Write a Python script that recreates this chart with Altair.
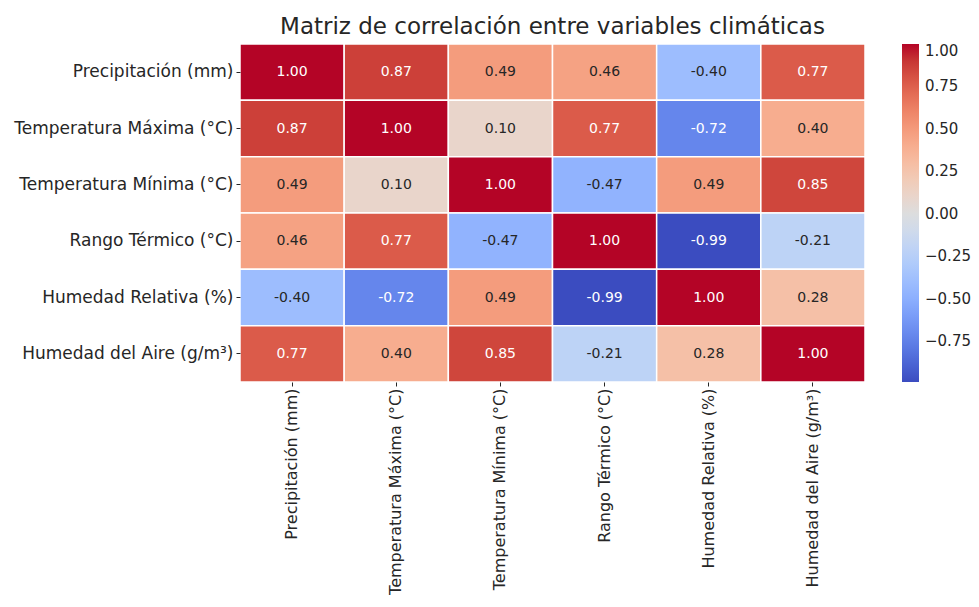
import altair as alt
import pandas as pd

variables = [
    "Precipitación (mm)",
    "Temperatura Máxima (°C)",
    "Temperatura Mínima (°C)",
    "Rango Térmico (°C)",
    "Humedad Relativa (%)",
    "Humedad del Aire (g/m³)",
]

row_prec = [1.00, 0.87, 0.49, 0.46, -0.40, 0.77]
row_tmax = [0.87, 1.00, 0.10, 0.77, -0.72, 0.40]
row_tmin = [0.49, 0.10, 1.00, -0.47, 0.49, 0.85]
row_rango = [0.46, 0.77, -0.47, 1.00, -0.99, -0.21]
row_hrel = [-0.40, -0.72, 0.49, -0.99, 1.00, 0.28]
row_haire = [0.77, 0.40, 0.85, -0.21, 0.28, 1.00]

legend_ticks = [1.00, 0.75, 0.50, 0.25, 0.00, -0.25, -0.50, -0.75]

rows = [row_prec, row_tmax, row_tmin, row_rango, row_hrel, row_haire]
records = []
for i, r in enumerate(rows):
    for j, v in enumerate(r):
        records.append({"row": variables[i], "col": variables[j], "value": v,
                        "label": f"{v:.2f}"})
df = pd.DataFrame(records)

# matplotlib "coolwarm" sampled at 17 stops
cw = ["#3b4cc0", "#4d68d7", "#6282ea", "#779af7", "#8db0fe", "#a3c2fe",
      "#b8d0f9", "#ccd9ed", "#dddddd", "#ecd3c5", "#f5c4ac", "#f7b194",
      "#f49a7b", "#ec7f63", "#de604d", "#cb3e38", "#b40426"]
vmin, vmax = -0.99, 1.00
stops = [vmin + (vmax - vmin) * k / (len(cw) - 1) for k in range(len(cw))]

FONT = "DejaVu Sans"
TXT = "#262626"

base = alt.Chart(df).encode(
    x=alt.X("col:N", sort=variables, title=None,
            scale=alt.Scale(paddingInner=0, paddingOuter=0),
            axis=alt.Axis(labelAngle=-90, labelFontSize=16, labelFont=FONT,
                          labelColor=TXT, tickColor=TXT, tickSize=4,
                          labelPadding=2, domain=False, labelLimit=400)),
    y=alt.Y("row:N", sort=variables, title=None,
            scale=alt.Scale(paddingInner=0, paddingOuter=0),
            axis=alt.Axis(labelFontSize=17, labelFont=FONT, labelColor=TXT,
                          tickColor=TXT, tickSize=4, labelPadding=3,
                          domain=False, labelLimit=400)),
)

rects = base.mark_rect(stroke="white", strokeWidth=1.5).encode(
    color=alt.Color("value:Q",
                    scale=alt.Scale(type="linear", domain=stops, range=cw),
                    legend=alt.Legend(title=None, orient="none", legendX=662,
                                      legendY=0, direction="vertical",
                                      gradientLength=338, gradientThickness=17,
                                      gradientStrokeWidth=0,
                                      values=legend_ticks, format=".2f",
                                      labelFontSize=15, labelFont=FONT,
                                      labelColor=TXT, labelOffset=6,
                                      labelLimit=300,
                                      labelOverlap=False))
)

texts = base.mark_text(fontSize=14, font=FONT).encode(
    text="label:N",
    color=alt.condition("abs(datum.value) >= 0.7", alt.value("white"),
                        alt.value(TXT)),
)

chart = (rects + texts).properties(
    width=625,
    height=338,
    autosize=alt.AutoSizeParams(type="none"),
    padding={"left": 232, "top": 36, "right": 106, "bottom": 216},
    title=alt.Title("Matriz de correlación entre variables climáticas",
                    fontSize=23, font=FONT, fontWeight="normal", color=TXT,
                    anchor="middle", offset=4),
).configure_view(stroke=None)

chart.save("out.html", embed_options={"renderer": "svg", "actions": False})
